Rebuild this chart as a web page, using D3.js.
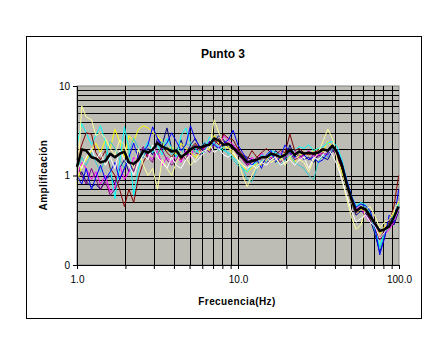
<!DOCTYPE html>
<html>
<head>
<meta charset="utf-8">
<script src="https://cdn.jsdelivr.net/npm/d3@7"></script>
<style>
  body { margin: 0; background: #fff; }
  svg { display: block; font-family: Arial, "Liberation Sans", sans-serif; }
</style>
</head>
<body>
<div id="chart"></div>
<script>
// frequencies (Hz)
const freqs = [1.00,1.07,1.14,1.23,1.31,1.40,1.50,1.61,1.72,1.84,1.97,2.10,2.25,2.41,2.58,2.76,2.95,3.16,3.38,3.62,3.87,4.14,4.43,4.74,5.07,5.43,5.81,6.21,6.65,7.11,7.61,8.15,8.72,9.33,9.98,10.7,11.4,12.2,13.1,14.0,15.0,16.0,17.1,18.3,19.6,21.0,22.5,24.0,25.7,27.5,29.5,31.5,33.7,36.1,38.6,41.3,44.2,47.3,50.6,54.1,57.9,62.0,66.3,71.0,75.9,81.2,86.9,93.0,99.5];

// individual records
const navy = [0.9,1.1,0.85,0.75,0.8,0.7,0.9,1.0,0.8,1.2,1.5,1.1,1.3,1.8,1.6,2.0,1.7,2.6,2.2,3.4,2.0,1.8,2.5,1.7,2.2,2.6,2.0,2.3,1.9,2.4,2.8,2.5,2.0,2.2,1.9,1.7,1.6,1.5,1.4,1.3,1.6,1.5,1.9,1.7,1.5,2.2,1.6,1.7,1.5,1.6,1.4,1.7,1.6,1.5,1.9,1.7,1.2,0.75,0.5,0.36,0.4,0.38,0.32,0.22,0.14,0.2,0.33,0.28,0.4];
const magenta = [1.0,1.4,1.2,0.9,1.1,0.8,1.0,0.65,0.75,1.3,0.9,1.1,1.6,1.4,2.0,1.7,1.5,1.9,1.3,1.6,1.4,1.7,1.4,1.9,1.6,2.2,1.8,2.0,2.4,2.3,2.0,2.8,2.5,2.2,1.9,1.5,1.3,1.6,1.4,1.8,1.5,1.6,1.5,1.8,1.6,1.7,1.9,1.5,1.7,1.9,1.6,1.7,1.8,1.6,2.0,1.9,1.4,0.85,0.55,0.42,0.45,0.35,0.3,0.28,0.2,0.22,0.25,0.3,0.42];
const yellow = [0.8,1.3,1.5,1.9,2.3,1.8,2.5,2.0,3.3,2.4,1.6,2.8,2.4,3.3,3.6,3.4,3.0,2.8,2.4,1.9,2.1,1.7,2.3,2.0,1.8,1.6,1.9,2.2,1.9,2.8,2.3,2.0,2.1,1.7,1.5,1.3,1.1,1.2,1.4,1.3,1.5,1.7,1.4,1.5,1.8,1.6,1.4,1.7,1.8,1.7,1.9,2.0,1.8,2.4,2.1,1.7,1.1,0.75,0.5,0.38,0.42,0.4,0.33,0.3,0.22,0.27,0.3,0.38,0.5];
const cyan = [2.2,3.8,3.0,2.2,2.8,3.6,2.4,1.2,0.55,1.4,3.5,2.0,0.6,1.2,1.9,2.4,1.8,2.2,1.7,2.6,2.0,1.6,2.8,3.4,2.3,2.0,1.7,1.9,2.7,2.3,2.1,1.9,1.8,1.6,1.4,1.2,1.1,1.3,1.4,1.7,1.6,1.9,1.8,1.7,1.6,1.8,1.9,2.1,2.0,2.2,1.9,2.0,2.1,2.3,2.4,2.1,1.5,0.9,0.6,0.46,0.5,0.47,0.38,0.26,0.16,0.24,0.3,0.36,0.48];
const purple = [1.3,1.0,0.8,1.2,0.9,0.7,0.85,0.6,0.7,0.9,1.2,1.5,1.1,1.7,2.1,1.6,1.4,2.4,1.9,1.5,1.3,1.5,1.8,1.5,2.1,1.8,1.7,2.1,1.8,2.2,2.6,2.4,2.3,2.0,1.7,1.5,1.3,1.4,1.6,1.5,1.4,1.5,1.7,1.4,1.6,1.8,1.5,1.6,1.7,1.5,1.7,1.6,1.8,1.7,2.0,1.6,1.2,0.8,0.52,0.38,0.43,0.4,0.32,0.27,0.19,0.23,0.28,0.33,0.43];
const darkred = [1.5,2.2,3.0,2.9,1.8,1.5,1.9,1.2,1.0,0.7,0.45,0.7,0.5,0.95,1.4,1.8,2.0,1.7,2.2,1.8,1.6,1.9,1.5,1.8,2.0,2.3,1.9,2.1,2.3,2.5,2.2,2.9,2.6,2.5,2.0,1.7,1.5,1.9,1.6,1.8,2.0,1.8,1.7,1.9,1.8,2.9,1.9,2.0,1.8,1.7,1.8,1.9,2.0,1.8,2.2,1.7,1.2,0.8,0.55,0.4,0.45,0.4,0.33,0.25,0.2,0.24,0.3,0.45,1.0];
const teal = [1.1,1.6,1.3,1.8,1.4,1.1,1.6,2.4,2.0,1.5,1.2,1.8,2.6,2.0,1.6,2.2,2.0,1.7,2.4,2.1,1.7,2.0,1.7,2.3,2.1,1.8,2.0,2.4,2.1,2.3,1.9,2.1,1.7,1.5,1.3,1.2,0.9,0.85,1.2,1.5,1.4,1.7,1.5,1.3,1.5,1.7,1.4,1.3,1.2,1.0,0.9,1.4,1.7,1.6,2.0,1.8,1.3,0.85,0.58,0.45,0.48,0.44,0.35,0.24,0.15,0.22,0.28,0.35,0.46];
const blue = [1.0,0.8,1.2,0.7,0.95,1.3,0.9,1.1,1.4,0.9,1.2,1.6,2.3,1.5,1.8,2.2,3.5,2.6,2.0,2.3,3.0,2.4,1.9,2.2,3.6,2.5,2.1,1.8,2.4,2.2,2.0,2.3,2.5,3.2,2.2,1.8,1.5,1.3,1.5,1.2,1.7,1.9,1.4,1.6,2.2,1.8,1.6,1.9,1.7,1.5,1.6,1.4,1.5,1.8,2.1,1.9,1.4,0.9,0.6,0.44,0.48,0.46,0.4,0.26,0.13,0.2,0.36,0.3,0.7];
const lightyellow = [0.7,6.0,4.5,4.2,2.8,3.0,2.6,2.0,1.7,2.5,2.2,1.5,1.2,2.0,1.3,1.0,1.2,0.7,1.5,1.2,1.0,1.4,1.8,1.6,1.3,1.5,1.8,1.9,2.0,4.2,3.0,2.2,2.0,1.9,1.5,1.0,0.75,1.0,1.3,1.4,1.6,1.4,1.5,1.7,1.3,1.6,1.8,1.5,1.4,1.1,1.5,1.8,2.4,3.3,2.6,1.5,0.9,0.55,0.35,0.25,0.28,0.42,0.45,0.35,0.26,0.3,0.32,0.4,0.52];
const white = [1.4,1.2,1.6,2.0,1.5,1.8,1.3,1.6,1.2,1.9,1.5,1.3,1.0,1.4,1.7,1.5,2.2,1.6,1.4,1.2,1.6,1.3,1.2,1.5,1.7,1.4,1.6,1.8,2.3,1.8,2.0,1.7,1.6,1.8,1.5,1.3,1.2,1.3,1.2,1.4,1.3,1.5,1.6,1.3,1.4,1.5,1.3,1.5,1.6,1.2,1.6,1.5,1.7,2.0,1.7,1.3,0.9,0.6,0.4,0.3,0.33,0.36,0.3,0.27,0.2,0.23,0.28,0.32,0.42];

// average
const mean = [1.25,1.95,1.9,1.6,1.55,1.4,1.45,1.75,1.6,1.75,1.85,1.4,1.35,1.5,1.9,1.8,1.95,2.3,2.1,2.0,1.85,1.9,1.6,1.75,1.95,2.1,2.05,2.15,2.2,2.6,2.45,2.2,2.25,2.05,1.8,1.6,1.4,1.45,1.5,1.6,1.6,1.75,1.7,1.6,1.7,1.95,1.7,1.85,1.75,1.8,1.75,1.8,1.95,1.9,2.15,1.8,1.3,0.8,0.55,0.4,0.44,0.42,0.35,0.29,0.24,0.25,0.27,0.34,0.45];

const xTickVals = [1, 10, 100];
const xTickLabels = ["1.0", "10.0", "100.0"];
const yTickVals = [0.1, 1, 10];
const yTickLabels = ["0", "1", "10"];

const series = [
    { color: "#000080", values: navy },
    { color: "#FF00FF", values: magenta },
    { color: "#FFFF00", values: yellow },
    { color: "#00FFFF", values: cyan },
    { color: "#800080", values: purple },
    { color: "#800000", values: darkred },
    { color: "#33CCCC", values: teal },
    { color: "#0000FF", values: blue },
    { color: "#FFFF99", values: lightyellow },
    { color: "#FFFFFF", values: white }
];

var W = 433, H = 354;
var margin = { top: 86, right: 34, bottom: 89, left: 77 },
    width = W - margin.left - margin.right,
    height = H - margin.top - margin.bottom;

var svg = d3.select("#chart").append("svg")
    .attr("width", W)
    .attr("height", H);

// outer chart border
svg.append("rect")
    .attr("x", 26.5).attr("y", 36.5)
    .attr("width", 395).attr("height", 282)
    .attr("fill", "#fff").attr("stroke", "#000").attr("stroke-width", 1);

svg.append("text")
    .attr("x", 223).attr("y", 58)
    .attr("text-anchor", "middle")
    .attr("font-size", 12).attr("font-weight", "bold")
    .text("Punto 3");

var g = svg.append("g")
    .attr("transform", "translate(" + margin.left + "," + margin.top + ")");

var x = d3.scaleLog().domain([1, 100]).range([0, width]);
var y = d3.scaleLog().domain([0.1, 10]).range([height, 0]);

// plot area
g.append("rect")
    .attr("width", width).attr("height", height)
    .attr("fill", "#BEBDB5")
    .attr("stroke", "#808080");

// grid
var xGrid = x.ticks().filter(d => d > 1 && d < 100);
var yGrid = y.ticks().filter(d => d > 0.1 && d < 10);
g.selectAll(".vgrid").data(xGrid).enter().append("line")
    .attr("x1", d => Math.round(x(d)) + 0.5).attr("x2", d => Math.round(x(d)) + 0.5)
    .attr("y1", 0).attr("y2", height)
    .attr("stroke", "#000").attr("stroke-width", 1);
g.selectAll(".hgrid").data(yGrid).enter().append("line")
    .attr("y1", d => Math.round(y(d)) + 0.5).attr("y2", d => Math.round(y(d)) + 0.5)
    .attr("x1", 0).attr("x2", width)
    .attr("stroke", "#000").attr("stroke-width", 1);

// lines
var line = d3.line()
    .x((d, i) => x(freqs[i]))
    .y(d => y(d));

g.selectAll(".rec").data(series).enter().append("path")
    .attr("d", d => line(d.values))
    .attr("fill", "none")
    .attr("stroke", d => d.color)
    .attr("stroke-width", 1);

g.append("path")
    .attr("d", line(mean))
    .attr("fill", "none")
    .attr("stroke", "#000")
    .attr("stroke-width", 2.5)
    .attr("stroke-linejoin", "round");

// axes
var xAxis = d3.axisBottom(x)
    .tickValues(x.ticks())
    .tickSize(4)
    .tickFormat(d => {
        var k = xTickVals.indexOf(d);
        return k >= 0 ? xTickLabels[k] : "";
    });
var gx = g.append("g")
    .attr("transform", "translate(0," + height + ")")
    .call(xAxis);
gx.select(".domain").attr("stroke", "#000");
gx.selectAll("text").attr("font-size", 10).attr("font-family", "Arial, 'Liberation Sans', sans-serif").attr("dy", "1.1em").attr("fill", "#000");

var yAxis = d3.axisLeft(y)
    .tickValues(yTickVals)
    .tickSize(4)
    .tickFormat((d, i) => yTickLabels[i]);
var gy = g.append("g").call(yAxis);
gy.select(".domain").attr("stroke", "#000");
gy.selectAll("text").attr("font-size", 10).attr("font-family", "Arial, 'Liberation Sans', sans-serif").attr("fill", "#000");

// axis titles
svg.append("text")
    .attr("x", 237).attr("y", 305)
    .attr("text-anchor", "middle")
    .attr("font-size", 10).attr("font-weight", "bold")
    .attr("letter-spacing", 0.4)
    .text("Frecuencia(Hz)");

svg.append("text")
    .attr("transform", "translate(47,175) rotate(-90)")
    .attr("text-anchor", "middle")
    .attr("font-size", 10).attr("font-weight", "bold")
    .attr("letter-spacing", 0.4)
    .text("Amplificación");
</script>
</body>
</html>
